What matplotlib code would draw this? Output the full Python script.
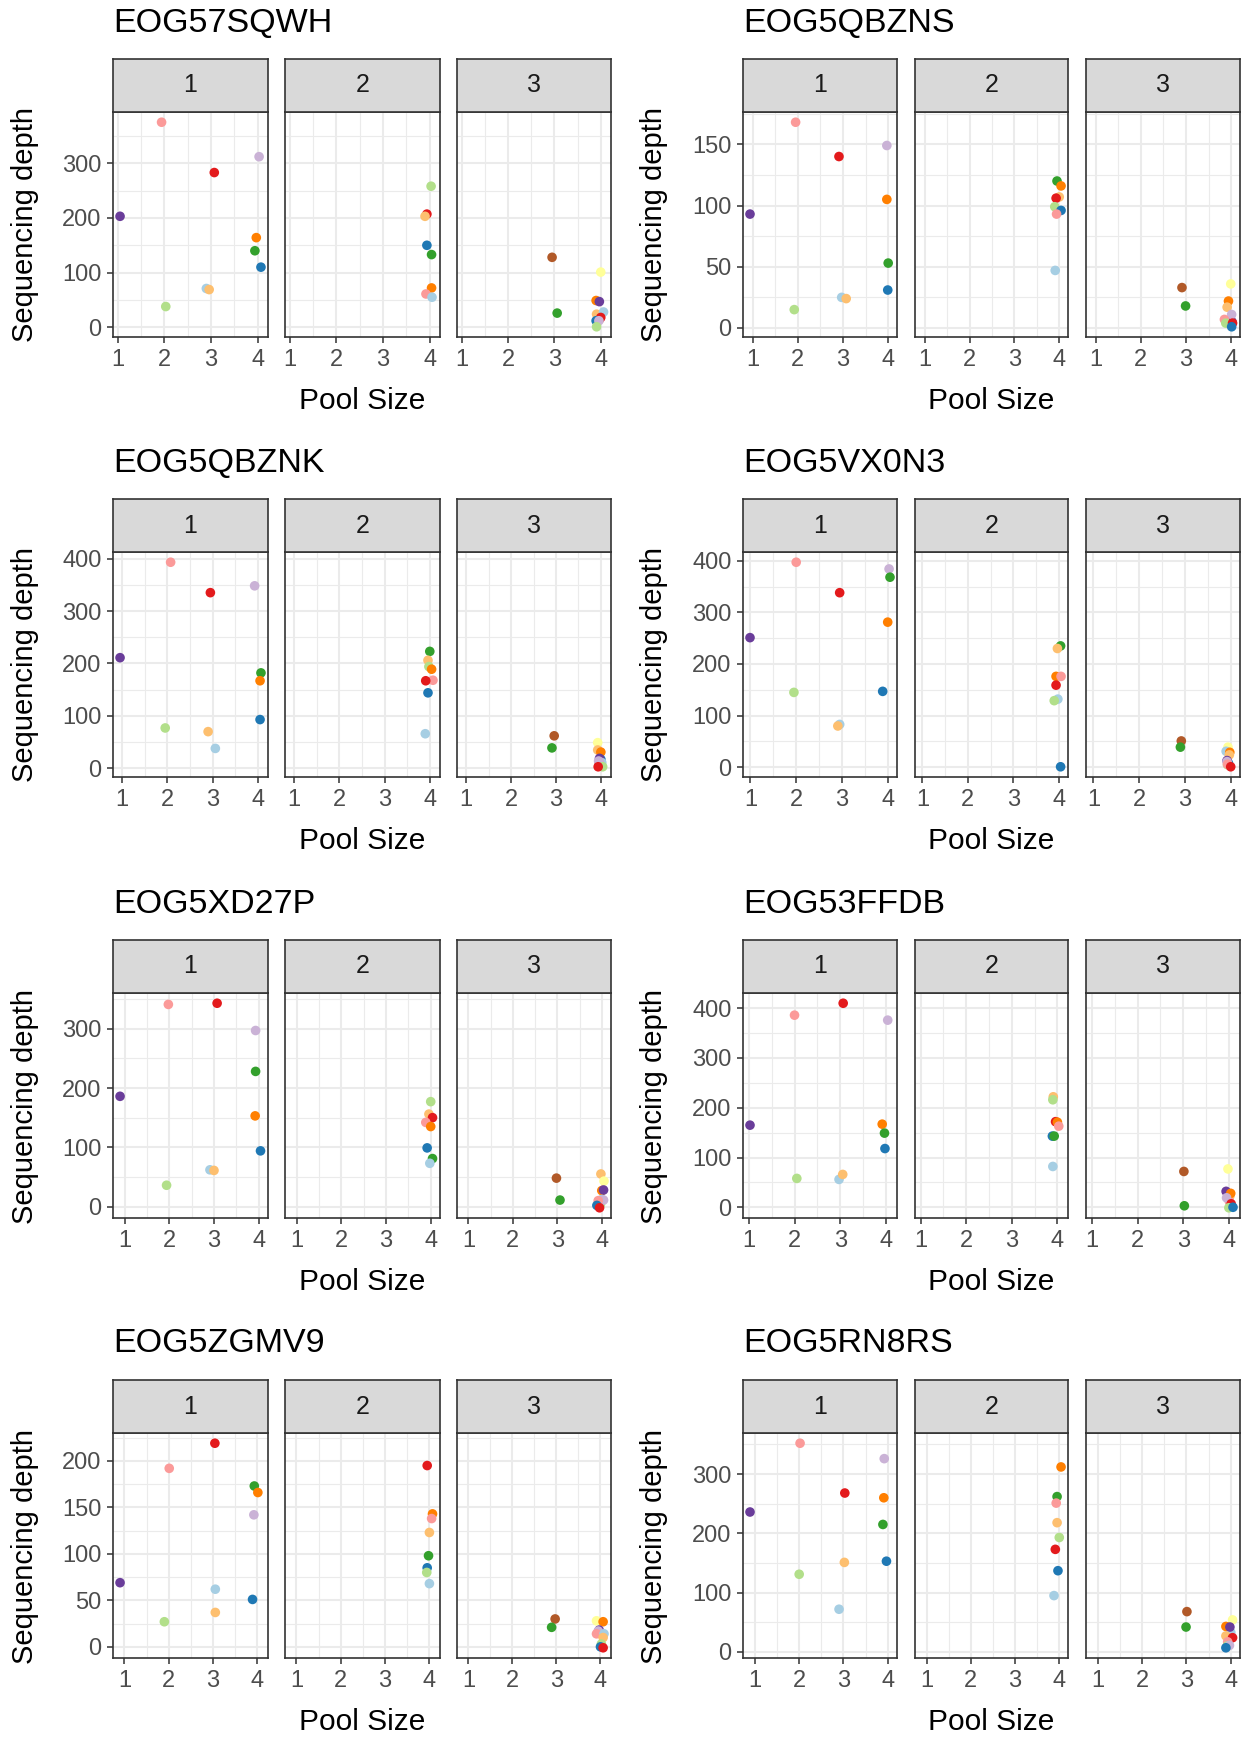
import matplotlib
matplotlib.use("Agg")
import matplotlib.pyplot as plt
from matplotlib.ticker import MultipleLocator, FixedLocator

plt.rcParams["font.family"] = ["Liberation Sans", "DejaVu Sans"]

# Paired palette, one colour per sample
SAMPLE_COLOURS = {
    "lblue": "#A6CEE3", "blue": "#1F78B4", "lgreen": "#B2DF8A", "green": "#33A02C",
    "pink": "#FB9A99", "red": "#E31A1C", "lorange": "#FDBF6F", "orange": "#FF7F00",
    "lpurple": "#CAB2D6", "purple": "#6A3D9A", "yellow": "#FFFF99", "brown": "#B15928",
}

GENES = ["EOG57SQWH", "EOG5QBZNS", "EOG5QBZNK", "EOG5VX0N3",
         "EOG5XD27P", "EOG53FFDB", "EOG5ZGMV9", "EOG5RN8RS"]
Y_STEP = [100, 50, 100, 100, 100, 100, 50, 100]
FACETS = [1, 2, 3]

# (facet, sample, jittered pool size, sequencing depth)
EOG57SQWH = [
    (1, "purple", 1.05, 203), (1, "pink", 1.94, 375), (1, "lgreen", 2.03, 38),
    (1, "red", 3.07, 283), (1, "lblue", 2.90, 71), (1, "lorange", 2.96, 69),
    (1, "lpurple", 4.03, 312), (1, "orange", 3.97, 164), (1, "green", 3.94, 140),
    (1, "blue", 4.07, 110),
    (2, "lgreen", 4.03, 258), (2, "red", 3.94, 207), (2, "lorange", 3.90, 203),
    (2, "blue", 3.94, 150), (2, "green", 4.04, 133), (2, "orange", 4.04, 72),
    (2, "pink", 3.92, 61), (2, "lblue", 4.05, 55),
    (3, "brown", 2.95, 128), (3, "green", 3.06, 26), (3, "yellow", 4.00, 101),
    (3, "orange", 3.90, 49), (3, "purple", 3.97, 47), (3, "pink", 3.98, 15),
    (3, "lorange", 3.91, 24), (3, "lblue", 4.06, 28), (3, "red", 4.00, 18),
    (3, "blue", 3.90, 12), (3, "lpurple", 3.96, 12), (3, "lgreen", 3.91, 1),
]
EOG5QBZNS = [
    (1, "purple", 0.94, 93), (1, "pink", 1.95, 168), (1, "lgreen", 1.92, 15),
    (1, "red", 2.91, 140), (1, "lblue", 2.97, 25), (1, "lorange", 3.07, 24),
    (1, "lpurple", 3.97, 149), (1, "orange", 3.97, 105), (1, "green", 4.00, 53),
    (1, "blue", 3.99, 31),
    (2, "green", 3.95, 120), (2, "orange", 4.04, 116), (2, "lorange", 4.00, 107),
    (2, "red", 3.93, 106), (2, "lgreen", 3.90, 99), (2, "blue", 4.04, 96),
    (2, "pink", 3.94, 93), (2, "lblue", 3.91, 47),
    (3, "brown", 2.91, 33), (3, "green", 2.99, 18), (3, "yellow", 3.99, 36),
    (3, "lblue", 4.00, 6), (3, "purple", 4.02, 5), (3, "orange", 3.94, 22),
    (3, "lorange", 3.91, 17), (3, "lpurple", 4.01, 11), (3, "pink", 3.85, 7),
    (3, "lgreen", 3.88, 4), (3, "red", 4.03, 4), (3, "blue", 4.01, 1),
]
EOG5QBZNK = [
    (1, "purple", 0.95, 211), (1, "pink", 2.07, 393), (1, "lgreen", 1.95, 77),
    (1, "red", 2.95, 335), (1, "lorange", 2.90, 70), (1, "lblue", 3.06, 38),
    (1, "lpurple", 3.93, 348), (1, "green", 4.07, 182), (1, "orange", 4.05, 167),
    (1, "blue", 4.05, 93),
    (2, "green", 4.00, 223), (2, "lorange", 3.96, 206), (2, "lgreen", 3.98, 194),
    (2, "orange", 4.04, 189), (2, "pink", 4.07, 168), (2, "red", 3.91, 167),
    (2, "blue", 3.96, 144), (2, "lblue", 3.90, 66),
    (3, "brown", 2.96, 62), (3, "green", 2.91, 39), (3, "yellow", 3.93, 49),
    (3, "lorange", 3.93, 35), (3, "orange", 4.00, 31), (3, "blue", 4.00, 17),
    (3, "purple", 3.97, 19), (3, "lblue", 4.02, 11), (3, "pink", 3.96, 10),
    (3, "lpurple", 3.95, 14), (3, "lgreen", 4.04, 3), (3, "red", 3.94, 3),
]
EOG5VX0N3 = [
    (1, "purple", 0.99, 251), (1, "pink", 2.00, 397), (1, "lgreen", 1.95, 145),
    (1, "red", 2.95, 338), (1, "lblue", 2.95, 83), (1, "lorange", 2.91, 80),
    (1, "lpurple", 4.03, 384), (1, "green", 4.05, 368), (1, "orange", 4.00, 281),
    (1, "blue", 3.89, 147),
    (2, "green", 4.04, 235), (2, "lorange", 3.97, 230), (2, "orange", 3.94, 176),
    (2, "pink", 4.05, 176), (2, "red", 3.94, 159), (2, "lblue", 3.98, 132),
    (2, "lgreen", 3.90, 129), (2, "blue", 4.04, 1),
    (3, "brown", 2.92, 51), (3, "green", 2.90, 39), (3, "yellow", 3.94, 39),
    (3, "lblue", 3.90, 31), (3, "orange", 3.98, 29), (3, "lorange", 3.97, 24),
    (3, "blue", 3.95, 8), (3, "lgreen", 3.93, 5), (3, "purple", 3.92, 13),
    (3, "lpurple", 3.92, 11), (3, "pink", 3.93, 6), (3, "red", 4.00, 1),
]
EOG5XD27P = [
    (1, "purple", 0.90, 186), (1, "pink", 1.98, 341), (1, "lgreen", 1.94, 36),
    (1, "red", 3.07, 343), (1, "lblue", 2.91, 62), (1, "lorange", 3.00, 61),
    (1, "lpurple", 3.93, 297), (1, "green", 3.93, 228), (1, "orange", 3.92, 153),
    (1, "blue", 4.04, 94),
    (2, "lgreen", 4.00, 177), (2, "lorange", 3.96, 156), (2, "red", 4.04, 150),
    (2, "pink", 3.89, 142), (2, "orange", 4.00, 135), (2, "blue", 3.92, 99),
    (2, "green", 4.04, 81), (2, "lblue", 3.98, 73),
    (3, "brown", 2.98, 48), (3, "green", 3.06, 11), (3, "lorange", 3.98, 55),
    (3, "yellow", 4.05, 43), (3, "orange", 4.00, 27), (3, "purple", 4.04, 28),
    (3, "lgreen", 3.97, 4), (3, "lblue", 4.00, 12), (3, "lpurple", 4.04, 11),
    (3, "pink", 3.92, 10), (3, "blue", 3.89, 2), (3, "red", 3.95, -2),
]
EOG53FFDB = [
    (1, "purple", 1.03, 165), (1, "pink", 2.00, 386), (1, "lgreen", 2.05, 58),
    (1, "red", 3.06, 410), (1, "lblue", 2.97, 56), (1, "lorange", 3.05, 66),
    (1, "lpurple", 4.03, 376), (1, "orange", 3.91, 167), (1, "green", 3.96, 149),
    (1, "blue", 3.97, 118),
    (2, "lorange", 3.91, 222), (2, "lgreen", 3.90, 216), (2, "red", 3.96, 172),
    (2, "orange", 4.00, 171), (2, "pink", 4.03, 163), (2, "blue", 3.89, 143),
    (2, "green", 3.93, 143), (2, "lblue", 3.90, 82),
    (3, "brown", 3.01, 72), (3, "green", 3.02, 3), (3, "yellow", 3.97, 77),
    (3, "lorange", 4.01, 22), (3, "lblue", 4.02, 5), (3, "pink", 4.00, 12),
    (3, "purple", 3.93, 32), (3, "orange", 4.03, 28), (3, "lpurple", 3.94, 19),
    (3, "red", 4.04, 7), (3, "lgreen", 3.99, -1), (3, "blue", 4.08, 0),
]
EOG5ZGMV9 = [
    (1, "purple", 0.90, 69), (1, "pink", 2.01, 192), (1, "lgreen", 1.90, 27),
    (1, "red", 3.04, 219), (1, "lblue", 3.05, 62), (1, "lorange", 3.05, 37),
    (1, "green", 3.93, 173), (1, "orange", 4.01, 166), (1, "lpurple", 3.92, 142),
    (1, "blue", 3.89, 51),
    (2, "red", 3.95, 195), (2, "orange", 4.07, 143), (2, "pink", 4.05, 138),
    (2, "lorange", 4.00, 123), (2, "green", 3.98, 98), (2, "blue", 3.95, 85),
    (2, "lgreen", 3.94, 80), (2, "lblue", 4.00, 68),
    (3, "brown", 2.97, 30), (3, "green", 2.89, 21), (3, "yellow", 3.91, 28),
    (3, "orange", 4.06, 27), (3, "purple", 3.97, 18), (3, "lpurple", 3.95, 17),
    (3, "pink", 3.91, 14), (3, "lblue", 4.08, 14), (3, "lorange", 4.06, 10),
    (3, "lgreen", 4.02, 3), (3, "blue", 4.00, 0), (3, "red", 4.06, -1),
]
EOG5RN8RS = [
    (1, "purple", 0.89, 236), (1, "pink", 2.02, 352), (1, "lgreen", 2.00, 131),
    (1, "red", 3.03, 268), (1, "lblue", 2.90, 72), (1, "lorange", 3.02, 151),
    (1, "lpurple", 3.92, 326), (1, "orange", 3.91, 260), (1, "green", 3.89, 215),
    (1, "blue", 3.97, 153),
    (2, "orange", 4.05, 312), (2, "green", 3.96, 262), (2, "pink", 3.94, 251),
    (2, "lorange", 3.96, 218), (2, "lgreen", 4.01, 193), (2, "red", 3.92, 173),
    (2, "blue", 3.98, 137), (2, "lblue", 3.89, 95),
    (3, "brown", 3.01, 68), (3, "green", 2.99, 42), (3, "yellow", 4.04, 54),
    (3, "lblue", 4.00, 33), (3, "orange", 3.89, 43), (3, "purple", 3.98, 42),
    (3, "lorange", 3.89, 27), (3, "red", 4.04, 24), (3, "pink", 3.93, 17),
    (3, "lgreen", 3.92, 10), (3, "lpurple", 3.97, 11), (3, "blue", 3.89, 7),
]
GENE_DATA = [EOG57SQWH, EOG5QBZNS, EOG5QBZNK, EOG5VX0N3,
             EOG5XD27P, EOG53FFDB, EOG5ZGMV9, EOG5RN8RS]

# --- layout in pixels -------------------------------------------------------
W, H = 1253, 1738
FACET_X = [[(113, 268), (285, 440), (457, 611)],
           [(743, 897), (915, 1068), (1086, 1240)]]
ROW_Y0 = [0, 440, 881, 1321]
YLAB_X = [25, 654]
GRID = "#EBEBEB"
DARK = "#333333"


def box(l, t, r, b):
    return [l / W, 1 - b / H, (r - l) / W, (b - t) / H]


def expand(vals):
    lo, hi = min(vals), max(vals)
    pad = (hi - lo) * 0.05
    return lo - pad, hi + pad


fig = plt.figure(figsize=(W / 100, H / 100), dpi=100)

for gi, (gene, data) in enumerate(zip(GENES, GENE_DATA)):
    row, col = divmod(gi, 2)
    y0 = ROW_Y0[row]
    xlim = expand([d[2] for d in data])
    ylim = expand([d[3] for d in data])
    step = Y_STEP[gi]
    cols = FACET_X[col]

    for fi, facet in enumerate(FACETS):
        l, r = cols[fi]
        ax = fig.add_axes(box(l, y0 + 112, r, y0 + 337))
        pts = [d for d in data if d[0] == facet]
        ax.scatter([p[2] for p in pts], [p[3] for p in pts],
                   c=[SAMPLE_COLOURS[p[1]] for p in pts], s=48,
                   linewidths=0, zorder=3)
        ax.set_xlim(*xlim)
        ax.set_ylim(*ylim)
        ax.xaxis.set_major_locator(FixedLocator([1, 2, 3, 4]))
        ax.xaxis.set_minor_locator(FixedLocator([1.5, 2.5, 3.5]))
        ax.yaxis.set_major_locator(MultipleLocator(step))
        ax.yaxis.set_minor_locator(MultipleLocator(step / 2))
        ax.grid(which="major", color=GRID, lw=1.5)
        ax.grid(which="minor", color=GRID, lw=0.8)
        ax.set_axisbelow(True)
        for sp in ax.spines.values():
            sp.set_color(DARK)
            sp.set_linewidth(1.2)
        ax.tick_params(which="major", length=4.3, width=1.1, color=DARK,
                       labelsize=17, labelcolor="#4D4D4D", pad=4)
        ax.tick_params(which="minor", length=0)
        if fi > 0:
            ax.tick_params(axis="y", which="both", left=False, labelleft=False)

        sax = fig.add_axes(box(l, y0 + 59, r, y0 + 112))
        sax.set_facecolor("#D9D9D9")
        sax.set_xticks([])
        sax.set_yticks([])
        for sp in sax.spines.values():
            sp.set_color(DARK)
            sp.set_linewidth(1.2)
        sax.text(0.5, 0.5, str(facet), ha="center", va="center",
                 fontsize=18, color="#1A1A1A", transform=sax.transAxes)

    fig.text(cols[0][0] / W, 1 - (y0 + 23) / H, gene, ha="left", va="center",
             fontsize=24.5, color="black")
    fig.text(YLAB_X[col] / W, 1 - (y0 + 225) / H, "Sequencing depth",
             rotation=90, ha="center", va="center", fontsize=21)
    fig.text((cols[0][0] + cols[2][1]) / 2 / W, 1 - (y0 + 401) / H, "Pool Size",
             ha="center", va="center", fontsize=21.5)

fig.savefig("out.png", dpi=100, facecolor="white")
